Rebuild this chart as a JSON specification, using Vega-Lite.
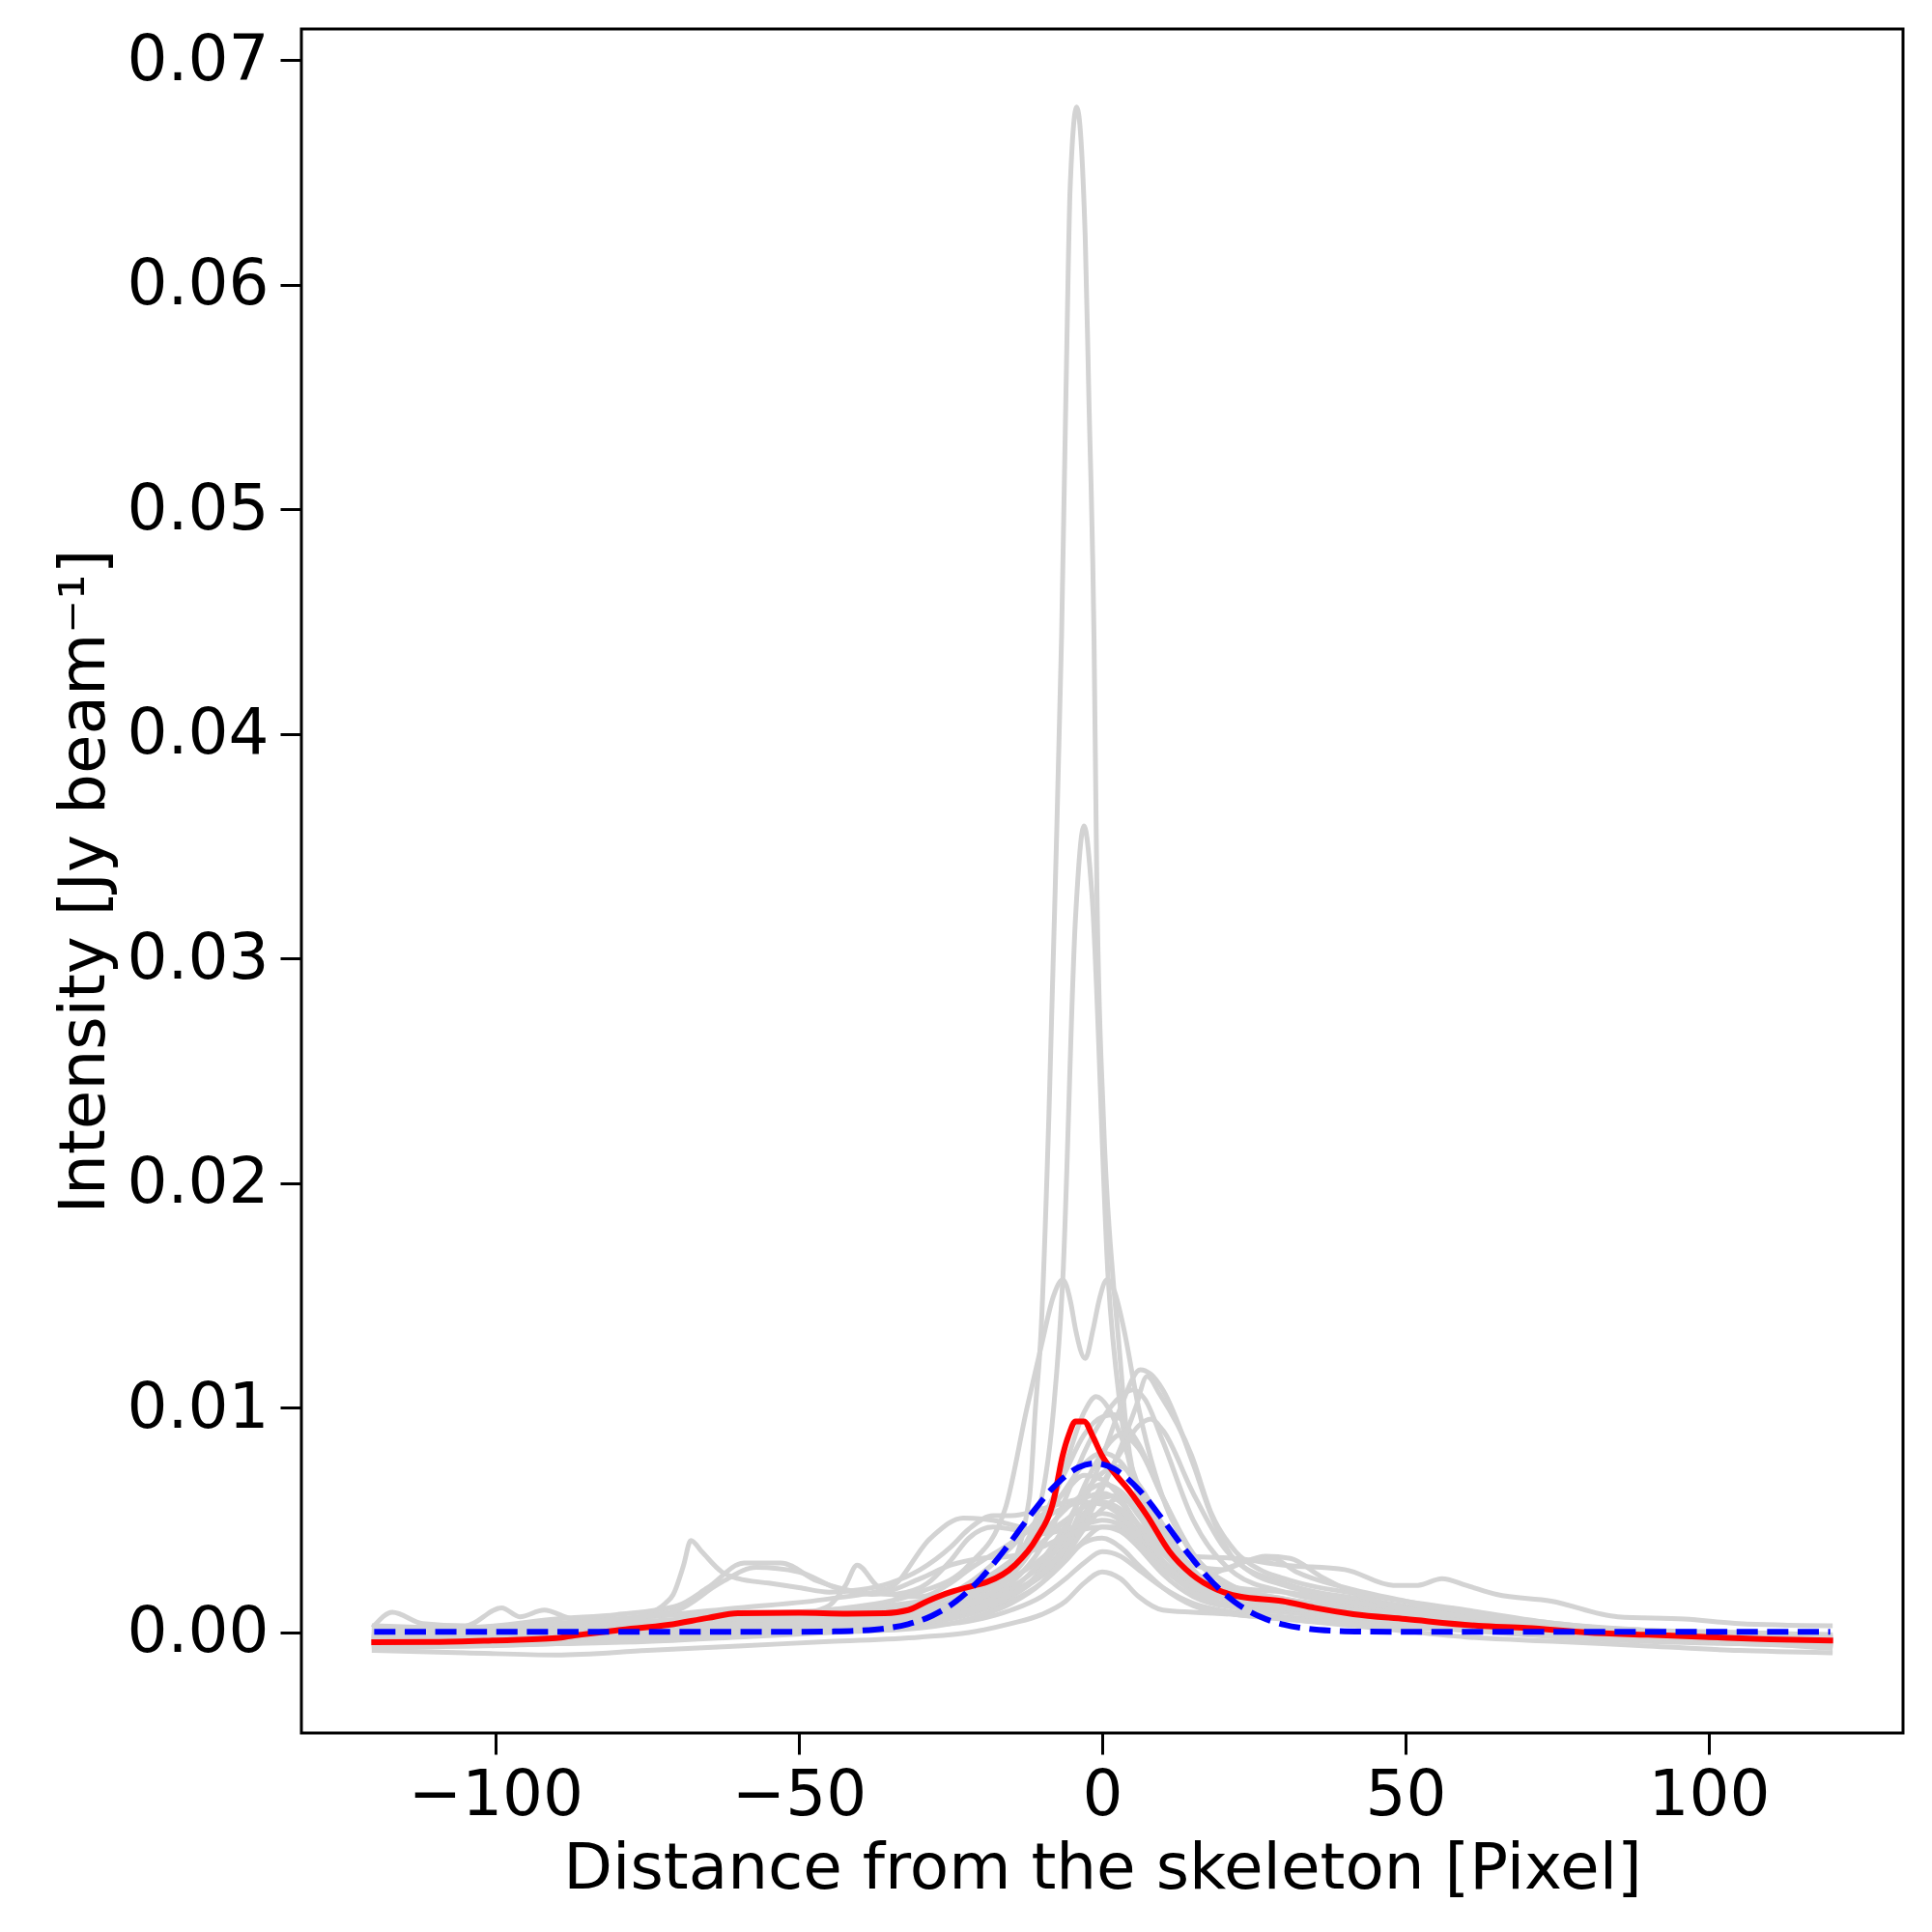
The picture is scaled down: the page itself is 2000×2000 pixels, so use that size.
{
"$schema": "https://vega.github.io/schema/vega-lite/v6.json",
"width": 1658,
"height": 1764,
"autosize": "none",
"padding": {"left": 312, "top": 30, "right": 30, "bottom": 206},
"background": "white",
"config": {
"view": {"stroke": "black", "strokeWidth": 3},
"axis": {"domain": false, "grid": false, "labelFont": "DejaVu Sans", "labelFontSize": 66, "labelColor": "black", "titleFont": "DejaVu Sans", "titleFontSize": 66, "titleFontWeight": "normal", "titleColor": "black", "tickColor": "black", "tickWidth": 3, "tickSize": 22, "labelPadding": 13, "labelOverlap": false, "labelFlush": false, "labelBound": false, "labelLimit": 0}
},
"datasets": {
"grey": [
{"id":"g01","x":-120,"y":-0.0006},{"id":"g01","x":-105,"y":-0.0005},{"id":"g01","x":-90,"y":-0.0004},{"id":"g01","x":-75,"y":0.0},{"id":"g01","x":-60,"y":0.0004},{"id":"g01","x":-45,"y":0.0006},{"id":"g01","x":-30,"y":0.0008},{"id":"g01","x":-22,"y":0.0012},{"id":"g01","x":-16,"y":0.0024},{"id":"g01","x":-12,"y":0.006},{"id":"g01","x":-11,"y":0.01},{"id":"g01","x":-10.1,"y":0.0133},{"id":"g01","x":-8.8,"y":0.0229},{"id":"g01","x":-7.7,"y":0.0336},{"id":"g01","x":-6.7,"y":0.0443},{"id":"g01","x":-5.6,"y":0.0607},{"id":"g01","x":-5.3,"y":0.0642},{"id":"g01","x":-4.2,"y":0.0679},{"id":"g01","x":-2.8,"y":0.0621},{"id":"g01","x":-2.2,"y":0.055},{"id":"g01","x":-1.35,"y":0.0443},{"id":"g01","x":-0.9,"y":0.0336},{"id":"g01","x":0.2,"y":0.0229},{"id":"g01","x":1.8,"y":0.0157},{"id":"g01","x":2.6,"y":0.0133},{"id":"g01","x":4,"y":0.009},{"id":"g01","x":6,"y":0.006},{"id":"g01","x":10,"y":0.0038},{"id":"g01","x":15,"y":0.0024},{"id":"g01","x":22,"y":0.0015},{"id":"g01","x":30,"y":0.0011},{"id":"g01","x":45,"y":0.0007},{"id":"g01","x":60,"y":0.0004},{"id":"g01","x":75,"y":0.0001},{"id":"g01","x":90,"y":-0.0002},{"id":"g01","x":105,"y":-0.0004},{"id":"g01","x":120,"y":-0.0005},
{"id":"g02","x":-120,"y":-0.0003},{"id":"g02","x":-105,"y":-0.0002},{"id":"g02","x":-90,"y":0.0},{"id":"g02","x":-75,"y":0.0003},{"id":"g02","x":-60,"y":0.0006},{"id":"g02","x":-45,"y":0.0008},{"id":"g02","x":-30,"y":0.001},{"id":"g02","x":-22,"y":0.0015},{"id":"g02","x":-15,"y":0.003},{"id":"g02","x":-10,"y":0.006},{"id":"g02","x":-8,"y":0.01},{"id":"g02","x":-6.5,"y":0.0157},{"id":"g02","x":-4.4,"y":0.0318},{"id":"g02","x":-3,"y":0.0359},{"id":"g02","x":-1.7,"y":0.0329},{"id":"g02","x":1,"y":0.0157},{"id":"g02","x":3,"y":0.01},{"id":"g02","x":6,"y":0.006},{"id":"g02","x":10,"y":0.004},{"id":"g02","x":15,"y":0.0025},{"id":"g02","x":22,"y":0.0016},{"id":"g02","x":30,"y":0.0012},{"id":"g02","x":45,"y":0.0008},{"id":"g02","x":60,"y":0.0005},{"id":"g02","x":75,"y":0.0002},{"id":"g02","x":90,"y":0.0},{"id":"g02","x":105,"y":-0.0002},{"id":"g02","x":120,"y":-0.0003},
{"id":"g03","x":-120,"y":-0.0002},{"id":"g03","x":-105,"y":0.0},{"id":"g03","x":-90,"y":0.0002},{"id":"g03","x":-75,"y":0.0004},{"id":"g03","x":-60,"y":0.0007},{"id":"g03","x":-45,"y":0.001},{"id":"g03","x":-30,"y":0.0018},{"id":"g03","x":-22,"y":0.003},{"id":"g03","x":-16,"y":0.0055},{"id":"g03","x":-12.4,"y":0.01},{"id":"g03","x":-10,"y":0.0128},{"id":"g03","x":-8,"y":0.015},{"id":"g03","x":-6.5,"y":0.0157},{"id":"g03","x":-5.2,"y":0.0147},{"id":"g03","x":-4.4,"y":0.0135},{"id":"g03","x":-2.8,"y":0.0122},{"id":"g03","x":-1.5,"y":0.0135},{"id":"g03","x":-0.5,"y":0.0148},{"id":"g03","x":0.8,"y":0.0157},{"id":"g03","x":2,"y":0.0152},{"id":"g03","x":3.5,"y":0.0136},{"id":"g03","x":6,"y":0.01},{"id":"g03","x":10,"y":0.006},{"id":"g03","x":15,"y":0.0035},{"id":"g03","x":22,"y":0.002},{"id":"g03","x":30,"y":0.0015},{"id":"g03","x":45,"y":0.001},{"id":"g03","x":60,"y":0.0006},{"id":"g03","x":75,"y":0.0003},{"id":"g03","x":90,"y":0.0001},{"id":"g03","x":105,"y":0.0},{"id":"g03","x":120,"y":-0.0001},
{"id":"g04","x":-120,"y":-0.0008},{"id":"g04","x":-105,"y":-0.0009},{"id":"g04","x":-90,"y":-0.001},{"id":"g04","x":-75,"y":-0.0008},{"id":"g04","x":-60,"y":-0.0006},{"id":"g04","x":-45,"y":-0.0004},{"id":"g04","x":-30,"y":-0.0002},{"id":"g04","x":-22,"y":0.0},{"id":"g04","x":-15,"y":0.0004},{"id":"g04","x":-10,"y":0.0008},{"id":"g04","x":-6,"y":0.0014},{"id":"g04","x":-3,"y":0.0022},{"id":"g04","x":0,"y":0.0027},{"id":"g04","x":3,"y":0.0024},{"id":"g04","x":6,"y":0.0016},{"id":"g04","x":10,"y":0.001},{"id":"g04","x":15,"y":0.0009},{"id":"g04","x":22,"y":0.0008},{"id":"g04","x":30,"y":0.0006},{"id":"g04","x":45,"y":0.0002},{"id":"g04","x":60,"y":-0.0002},{"id":"g04","x":75,"y":-0.0004},{"id":"g04","x":90,"y":-0.0006},{"id":"g04","x":105,"y":-0.0008},{"id":"g04","x":120,"y":-0.0009},
{"id":"g05","x":-120,"y":-0.0005},{"id":"g05","x":-105,"y":-0.0006},{"id":"g05","x":-90,"y":-0.0005},{"id":"g05","x":-75,"y":-0.0003},{"id":"g05","x":-60,"y":0.0},{"id":"g05","x":-45,"y":0.0002},{"id":"g05","x":-30,"y":0.0003},{"id":"g05","x":-22,"y":0.0005},{"id":"g05","x":-15,"y":0.001},{"id":"g05","x":-10,"y":0.0016},{"id":"g05","x":-6,"y":0.0024},{"id":"g05","x":-3,"y":0.0031},{"id":"g05","x":0,"y":0.0036},{"id":"g05","x":3,"y":0.0034},{"id":"g05","x":6,"y":0.0028},{"id":"g05","x":10,"y":0.002},{"id":"g05","x":15,"y":0.0013},{"id":"g05","x":22,"y":0.0009},{"id":"g05","x":30,"y":0.0007},{"id":"g05","x":45,"y":0.0004},{"id":"g05","x":60,"y":0.0001},{"id":"g05","x":75,"y":-0.0002},{"id":"g05","x":90,"y":-0.0004},{"id":"g05","x":105,"y":-0.0005},{"id":"g05","x":120,"y":-0.0006},
{"id":"g06","x":-120,"y":-0.0004},{"id":"g06","x":-105,"y":-0.0003},{"id":"g06","x":-90,"y":-0.0002},{"id":"g06","x":-75,"y":0.0001},{"id":"g06","x":-60,"y":0.0005},{"id":"g06","x":-45,"y":0.0006},{"id":"g06","x":-30,"y":0.0006},{"id":"g06","x":-22,"y":0.001},{"id":"g06","x":-15,"y":0.0017},{"id":"g06","x":-10,"y":0.0025},{"id":"g06","x":-6,"y":0.0033},{"id":"g06","x":-3,"y":0.004},{"id":"g06","x":0,"y":0.0042},{"id":"g06","x":3,"y":0.0038},{"id":"g06","x":6,"y":0.003},{"id":"g06","x":10,"y":0.002},{"id":"g06","x":15,"y":0.0012},{"id":"g06","x":22,"y":0.0008},{"id":"g06","x":30,"y":0.0006},{"id":"g06","x":45,"y":0.0003},{"id":"g06","x":60,"y":0.0001},{"id":"g06","x":75,"y":-0.0001},{"id":"g06","x":90,"y":-0.0003},{"id":"g06","x":105,"y":-0.0005},{"id":"g06","x":120,"y":-0.0006},
{"id":"g07","x":-120,"y":-0.0006},{"id":"g07","x":-105,"y":-0.0005},{"id":"g07","x":-90,"y":-0.0003},{"id":"g07","x":-75,"y":0.0},{"id":"g07","x":-60,"y":0.0003},{"id":"g07","x":-45,"y":0.0005},{"id":"g07","x":-30,"y":0.0006},{"id":"g07","x":-22,"y":0.0009},{"id":"g07","x":-15,"y":0.0014},{"id":"g07","x":-10,"y":0.0022},{"id":"g07","x":-6,"y":0.0032},{"id":"g07","x":-3,"y":0.0041},{"id":"g07","x":0,"y":0.0047},{"id":"g07","x":3,"y":0.0047},{"id":"g07","x":6,"y":0.0038},{"id":"g07","x":10,"y":0.0026},{"id":"g07","x":15,"y":0.0016},{"id":"g07","x":22,"y":0.0011},{"id":"g07","x":30,"y":0.0009},{"id":"g07","x":45,"y":0.0005},{"id":"g07","x":60,"y":0.0002},{"id":"g07","x":75,"y":0.0},{"id":"g07","x":90,"y":-0.0002},{"id":"g07","x":105,"y":-0.0004},{"id":"g07","x":120,"y":-0.0005},
{"id":"g08","x":-120,"y":-0.0002},{"id":"g08","x":-105,"y":-0.0001},{"id":"g08","x":-90,"y":0.0},{"id":"g08","x":-75,"y":0.0003},{"id":"g08","x":-60,"y":0.0007},{"id":"g08","x":-45,"y":0.0009},{"id":"g08","x":-30,"y":0.0011},{"id":"g08","x":-22,"y":0.0016},{"id":"g08","x":-15,"y":0.0024},{"id":"g08","x":-10,"y":0.0033},{"id":"g08","x":-6,"y":0.0043},{"id":"g08","x":-3,"y":0.005},{"id":"g08","x":0,"y":0.0053},{"id":"g08","x":3,"y":0.005},{"id":"g08","x":6,"y":0.0041},{"id":"g08","x":10,"y":0.0029},{"id":"g08","x":15,"y":0.0018},{"id":"g08","x":22,"y":0.0012},{"id":"g08","x":30,"y":0.001},{"id":"g08","x":45,"y":0.0006},{"id":"g08","x":60,"y":0.0003},{"id":"g08","x":75,"y":0.0001},{"id":"g08","x":90,"y":-0.0001},{"id":"g08","x":105,"y":-0.0002},{"id":"g08","x":120,"y":-0.0003},
{"id":"g09","x":-120,"y":0.0003},{"id":"g09","x":-105,"y":0.0002},{"id":"g09","x":-90,"y":0.0004},{"id":"g09","x":-75,"y":0.0007},{"id":"g09","x":-60,"y":0.0011},{"id":"g09","x":-45,"y":0.0015},{"id":"g09","x":-35,"y":0.002},{"id":"g09","x":-28.3,"y":0.0042},{"id":"g09","x":-22.9,"y":0.0051},{"id":"g09","x":-18,"y":0.005},{"id":"g09","x":-15,"y":0.0048},{"id":"g09","x":-10,"y":0.0045},{"id":"g09","x":-6,"y":0.005},{"id":"g09","x":-3,"y":0.0056},{"id":"g09","x":0,"y":0.0058},{"id":"g09","x":3,"y":0.0054},{"id":"g09","x":6,"y":0.0044},{"id":"g09","x":10,"y":0.0032},{"id":"g09","x":15,"y":0.0022},{"id":"g09","x":22,"y":0.0015},{"id":"g09","x":30,"y":0.0012},{"id":"g09","x":45,"y":0.0008},{"id":"g09","x":60,"y":0.0005},{"id":"g09","x":75,"y":0.0003},{"id":"g09","x":90,"y":0.0001},{"id":"g09","x":105,"y":0.0},{"id":"g09","x":120,"y":-0.0001},
{"id":"g10","x":-120,"y":-0.0004},{"id":"g10","x":-105,"y":-0.0004},{"id":"g10","x":-90,"y":-0.0003},{"id":"g10","x":-75,"y":0.0},{"id":"g10","x":-60,"y":0.0004},{"id":"g10","x":-45,"y":0.0006},{"id":"g10","x":-30,"y":0.0007},{"id":"g10","x":-22,"y":0.0011},{"id":"g10","x":-15,"y":0.002},{"id":"g10","x":-10,"y":0.003},{"id":"g10","x":-6,"y":0.0042},{"id":"g10","x":-3,"y":0.0053},{"id":"g10","x":0,"y":0.006},{"id":"g10","x":3,"y":0.0061},{"id":"g10","x":6,"y":0.0052},{"id":"g10","x":10,"y":0.0036},{"id":"g10","x":15,"y":0.0022},{"id":"g10","x":22,"y":0.0014},{"id":"g10","x":30,"y":0.001},{"id":"g10","x":45,"y":0.0006},{"id":"g10","x":60,"y":0.0003},{"id":"g10","x":75,"y":0.0001},{"id":"g10","x":90,"y":-0.0001},{"id":"g10","x":105,"y":-0.0003},{"id":"g10","x":120,"y":-0.0004},
{"id":"g11","x":-120,"y":0.0003},{"id":"g11","x":-117,"y":0.0009},{"id":"g11","x":-112,"y":0.0004},{"id":"g11","x":-105,"y":0.0003},{"id":"g11","x":-99,"y":0.0011},{"id":"g11","x":-96,"y":0.0007},{"id":"g11","x":-92,"y":0.001},{"id":"g11","x":-87,"y":0.0006},{"id":"g11","x":-80,"y":0.0006},{"id":"g11","x":-75,"y":0.0007},{"id":"g11","x":-60,"y":0.0009},{"id":"g11","x":-45,"y":0.0009},{"id":"g11","x":-30,"y":0.0012},{"id":"g11","x":-22,"y":0.002},{"id":"g11","x":-15,"y":0.0032},{"id":"g11","x":-10,"y":0.0044},{"id":"g11","x":-6,"y":0.0055},{"id":"g11","x":-3,"y":0.0062},{"id":"g11","x":0,"y":0.0066},{"id":"g11","x":3,"y":0.0063},{"id":"g11","x":6,"y":0.0054},{"id":"g11","x":10,"y":0.004},{"id":"g11","x":15,"y":0.0026},{"id":"g11","x":22,"y":0.0018},{"id":"g11","x":30,"y":0.0014},{"id":"g11","x":45,"y":0.0009},{"id":"g11","x":60,"y":0.0005},{"id":"g11","x":75,"y":0.0002},{"id":"g11","x":90,"y":0.0},{"id":"g11","x":105,"y":-0.0001},{"id":"g11","x":120,"y":-0.0002},
{"id":"g12","x":-120,"y":-0.0003},{"id":"g12","x":-105,"y":-0.0002},{"id":"g12","x":-90,"y":-0.0001},{"id":"g12","x":-75,"y":0.0002},{"id":"g12","x":-60,"y":0.0005},{"id":"g12","x":-45,"y":0.0008},{"id":"g12","x":-30,"y":0.0012},{"id":"g12","x":-22,"y":0.0022},{"id":"g12","x":-15,"y":0.0038},{"id":"g12","x":-10,"y":0.0052},{"id":"g12","x":-6,"y":0.0063},{"id":"g12","x":-3,"y":0.007},{"id":"g12","x":0,"y":0.0068},{"id":"g12","x":3,"y":0.006},{"id":"g12","x":6,"y":0.0047},{"id":"g12","x":10,"y":0.0032},{"id":"g12","x":15,"y":0.002},{"id":"g12","x":22,"y":0.0014},{"id":"g12","x":30,"y":0.0011},{"id":"g12","x":45,"y":0.0007},{"id":"g12","x":60,"y":0.0004},{"id":"g12","x":75,"y":0.0002},{"id":"g12","x":90,"y":0.0},{"id":"g12","x":105,"y":-0.0002},{"id":"g12","x":120,"y":-0.0003},
{"id":"g13","x":-120,"y":-0.0005},{"id":"g13","x":-105,"y":-0.0004},{"id":"g13","x":-90,"y":-0.0004},{"id":"g13","x":-75,"y":-0.0002},{"id":"g13","x":-60,"y":0.0001},{"id":"g13","x":-45,"y":0.0003},{"id":"g13","x":-30,"y":0.0005},{"id":"g13","x":-22,"y":0.001},{"id":"g13","x":-15,"y":0.0019},{"id":"g13","x":-10,"y":0.0032},{"id":"g13","x":-6,"y":0.0048},{"id":"g13","x":-3,"y":0.0062},{"id":"g13","x":0,"y":0.0071},{"id":"g13","x":3,"y":0.0074},{"id":"g13","x":6,"y":0.0066},{"id":"g13","x":10,"y":0.0048},{"id":"g13","x":15,"y":0.0028},{"id":"g13","x":22,"y":0.0017},{"id":"g13","x":30,"y":0.0013},{"id":"g13","x":45,"y":0.0008},{"id":"g13","x":60,"y":0.0004},{"id":"g13","x":75,"y":0.0001},{"id":"g13","x":90,"y":-0.0002},{"id":"g13","x":105,"y":-0.0004},{"id":"g13","x":120,"y":-0.0005},
{"id":"g14","x":-120,"y":-0.0001},{"id":"g14","x":-105,"y":0.0},{"id":"g14","x":-90,"y":0.0001},{"id":"g14","x":-75,"y":0.0003},{"id":"g14","x":-60,"y":0.0006},{"id":"g14","x":-45,"y":0.0008},{"id":"g14","x":-30,"y":0.001},{"id":"g14","x":-22,"y":0.0018},{"id":"g14","x":-15,"y":0.0032},{"id":"g14","x":-10,"y":0.0048},{"id":"g14","x":-6,"y":0.0064},{"id":"g14","x":-3,"y":0.0075},{"id":"g14","x":0,"y":0.008},{"id":"g14","x":3,"y":0.0076},{"id":"g14","x":6,"y":0.0064},{"id":"g14","x":10,"y":0.0045},{"id":"g14","x":15,"y":0.0027},{"id":"g14","x":22,"y":0.0017},{"id":"g14","x":30,"y":0.0014},{"id":"g14","x":45,"y":0.0009},{"id":"g14","x":60,"y":0.0005},{"id":"g14","x":75,"y":0.0002},{"id":"g14","x":90,"y":0.0},{"id":"g14","x":105,"y":-0.0001},{"id":"g14","x":120,"y":-0.0002},
{"id":"g15","x":-120,"y":-0.0006},{"id":"g15","x":-105,"y":-0.0005},{"id":"g15","x":-90,"y":-0.0004},{"id":"g15","x":-75,"y":-0.0003},{"id":"g15","x":-60,"y":-0.0001},{"id":"g15","x":-45,"y":0.0001},{"id":"g15","x":-30,"y":0.0004},{"id":"g15","x":-22,"y":0.0008},{"id":"g15","x":-15,"y":0.0016},{"id":"g15","x":-10,"y":0.0028},{"id":"g15","x":-6,"y":0.0045},{"id":"g15","x":-3,"y":0.0065},{"id":"g15","x":0,"y":0.008},{"id":"g15","x":3,"y":0.0088},{"id":"g15","x":6,"y":0.0082},{"id":"g15","x":10,"y":0.006},{"id":"g15","x":15,"y":0.0035},{"id":"g15","x":22,"y":0.002},{"id":"g15","x":30,"y":0.0014},{"id":"g15","x":45,"y":0.0008},{"id":"g15","x":60,"y":0.0004},{"id":"g15","x":75,"y":0.0001},{"id":"g15","x":90,"y":-0.0002},{"id":"g15","x":105,"y":-0.0004},{"id":"g15","x":120,"y":-0.0006},
{"id":"g16","x":-120,"y":-0.0003},{"id":"g16","x":-105,"y":-0.0002},{"id":"g16","x":-90,"y":-0.0001},{"id":"g16","x":-75,"y":0.0002},{"id":"g16","x":-60,"y":0.0005},{"id":"g16","x":-45,"y":0.0007},{"id":"g16","x":-30,"y":0.0009},{"id":"g16","x":-22,"y":0.0016},{"id":"g16","x":-15,"y":0.003},{"id":"g16","x":-10,"y":0.005},{"id":"g16","x":-6,"y":0.0072},{"id":"g16","x":-3,"y":0.0088},{"id":"g16","x":0,"y":0.0096},{"id":"g16","x":2,"y":0.0097},{"id":"g16","x":4,"y":0.0092},{"id":"g16","x":6,"y":0.0084},{"id":"g16","x":10,"y":0.006},{"id":"g16","x":15,"y":0.0034},{"id":"g16","x":22,"y":0.002},{"id":"g16","x":30,"y":0.0015},{"id":"g16","x":45,"y":0.0009},{"id":"g16","x":60,"y":0.0005},{"id":"g16","x":75,"y":0.0002},{"id":"g16","x":90,"y":0.0},{"id":"g16","x":105,"y":-0.0002},{"id":"g16","x":120,"y":-0.0003},
{"id":"g17","x":-120,"y":-0.0004},{"id":"g17","x":-105,"y":-0.0003},{"id":"g17","x":-90,"y":-0.0002},{"id":"g17","x":-75,"y":0.0},{"id":"g17","x":-60,"y":0.0003},{"id":"g17","x":-45,"y":0.0005},{"id":"g17","x":-30,"y":0.0007},{"id":"g17","x":-22,"y":0.0012},{"id":"g17","x":-15,"y":0.0022},{"id":"g17","x":-10,"y":0.0038},{"id":"g17","x":-6,"y":0.006},{"id":"g17","x":-3,"y":0.008},{"id":"g17","x":0,"y":0.0095},{"id":"g17","x":3,"y":0.0105},{"id":"g17","x":5,"y":0.0108},{"id":"g17","x":7,"y":0.0104},{"id":"g17","x":10,"y":0.0085},{"id":"g17","x":15,"y":0.005},{"id":"g17","x":22,"y":0.0026},{"id":"g17","x":30,"y":0.0018},{"id":"g17","x":45,"y":0.0011},{"id":"g17","x":60,"y":0.0006},{"id":"g17","x":75,"y":0.0002},{"id":"g17","x":90,"y":0.0},{"id":"g17","x":105,"y":-0.0002},{"id":"g17","x":120,"y":-0.0004},
{"id":"g18","x":-120,"y":-0.0005},{"id":"g18","x":-105,"y":-0.0004},{"id":"g18","x":-90,"y":-0.0003},{"id":"g18","x":-75,"y":-0.0002},{"id":"g18","x":-60,"y":0.0},{"id":"g18","x":-45,"y":0.0002},{"id":"g18","x":-30,"y":0.0005},{"id":"g18","x":-22,"y":0.0009},{"id":"g18","x":-15,"y":0.0016},{"id":"g18","x":-10,"y":0.0026},{"id":"g18","x":-6,"y":0.004},{"id":"g18","x":-3,"y":0.0058},{"id":"g18","x":0,"y":0.0078},{"id":"g18","x":3,"y":0.01},{"id":"g18","x":6.3,"y":0.0117},{"id":"g18","x":8,"y":0.0115},{"id":"g18","x":10,"y":0.0108},{"id":"g18","x":15,"y":0.0075},{"id":"g18","x":18,"y":0.0052},{"id":"g18","x":22,"y":0.0032},{"id":"g18","x":30,"y":0.0022},{"id":"g18","x":45,"y":0.0014},{"id":"g18","x":60,"y":0.0008},{"id":"g18","x":75,"y":0.0003},{"id":"g18","x":90,"y":0.0},{"id":"g18","x":105,"y":-0.0003},{"id":"g18","x":120,"y":-0.0005},
{"id":"g19","x":-120,"y":-0.0002},{"id":"g19","x":-105,"y":-0.0001},{"id":"g19","x":-90,"y":0.0},{"id":"g19","x":-75,"y":0.0002},{"id":"g19","x":-60,"y":0.0004},{"id":"g19","x":-45,"y":0.0006},{"id":"g19","x":-30,"y":0.0008},{"id":"g19","x":-22,"y":0.0012},{"id":"g19","x":-15,"y":0.0018},{"id":"g19","x":-10,"y":0.0026},{"id":"g19","x":-6,"y":0.0036},{"id":"g19","x":-3,"y":0.0048},{"id":"g19","x":0,"y":0.0064},{"id":"g19","x":3,"y":0.0082},{"id":"g19","x":5.5,"y":0.01},{"id":"g19","x":7.4,"y":0.0114},{"id":"g19","x":9.5,"y":0.0106},{"id":"g19","x":14.7,"y":0.0079},{"id":"g19","x":18,"y":0.0053},{"id":"g19","x":22,"y":0.0036},{"id":"g19","x":26,"y":0.0028},{"id":"g19","x":30,"y":0.0024},{"id":"g19","x":45,"y":0.0016},{"id":"g19","x":60,"y":0.001},{"id":"g19","x":75,"y":0.0004},{"id":"g19","x":90,"y":0.0001},{"id":"g19","x":105,"y":-0.0001},{"id":"g19","x":120,"y":-0.0002},
{"id":"g20","x":-120,"y":-0.0004},{"id":"g20","x":-105,"y":-0.0003},{"id":"g20","x":-90,"y":-0.0003},{"id":"g20","x":-75,"y":-0.0001},{"id":"g20","x":-60,"y":0.0002},{"id":"g20","x":-45,"y":0.0004},{"id":"g20","x":-30,"y":0.0006},{"id":"g20","x":-22,"y":0.001},{"id":"g20","x":-15,"y":0.0017},{"id":"g20","x":-10,"y":0.0026},{"id":"g20","x":-6,"y":0.0038},{"id":"g20","x":-3,"y":0.0052},{"id":"g20","x":0,"y":0.0066},{"id":"g20","x":3,"y":0.008},{"id":"g20","x":6,"y":0.0092},{"id":"g20","x":8,"y":0.0095},{"id":"g20","x":10,"y":0.009},{"id":"g20","x":15,"y":0.0062},{"id":"g20","x":20,"y":0.0038},{"id":"g20","x":25,"y":0.0026},{"id":"g20","x":30,"y":0.0021},{"id":"g20","x":45,"y":0.0013},{"id":"g20","x":60,"y":0.0007},{"id":"g20","x":75,"y":0.0003},{"id":"g20","x":90,"y":0.0},{"id":"g20","x":105,"y":-0.0002},{"id":"g20","x":120,"y":-0.0004},
{"id":"g21","x":-120,"y":-0.0002},{"id":"g21","x":-105,"y":0.0},{"id":"g21","x":-90,"y":0.0002},{"id":"g21","x":-80,"y":0.0005},{"id":"g21","x":-75,"y":0.0008},{"id":"g21","x":-72,"y":0.0013},{"id":"g21","x":-70.7,"y":0.0017},{"id":"g21","x":-69,"y":0.003},{"id":"g21","x":-67.8,"y":0.0041},{"id":"g21","x":-66,"y":0.0036},{"id":"g21","x":-62.7,"y":0.0027},{"id":"g21","x":-60,"y":0.0024},{"id":"g21","x":-55,"y":0.0022},{"id":"g21","x":-50,"y":0.002},{"id":"g21","x":-45,"y":0.0018},{"id":"g21","x":-40,"y":0.0019},{"id":"g21","x":-35,"y":0.0022},{"id":"g21","x":-30,"y":0.0028},{"id":"g21","x":-25,"y":0.0038},{"id":"g21","x":-22,"y":0.0046},{"id":"g21","x":-18,"y":0.0052},{"id":"g21","x":-15,"y":0.0052},{"id":"g21","x":-10,"y":0.0055},{"id":"g21","x":-6,"y":0.0058},{"id":"g21","x":-3,"y":0.006},{"id":"g21","x":0,"y":0.0062},{"id":"g21","x":3,"y":0.0058},{"id":"g21","x":6,"y":0.0048},{"id":"g21","x":10,"y":0.0035},{"id":"g21","x":15,"y":0.0025},{"id":"g21","x":22,"y":0.002},{"id":"g21","x":30,"y":0.0018},{"id":"g21","x":45,"y":0.0012},{"id":"g21","x":60,"y":0.0007},{"id":"g21","x":75,"y":0.0003},{"id":"g21","x":90,"y":0.0},{"id":"g21","x":105,"y":-0.0002},{"id":"g21","x":120,"y":-0.0003},
{"id":"g22","x":-120,"y":-0.0005},{"id":"g22","x":-105,"y":-0.0004},{"id":"g22","x":-90,"y":-0.0002},{"id":"g22","x":-75,"y":0.0},{"id":"g22","x":-60,"y":0.0004},{"id":"g22","x":-50,"y":0.0008},{"id":"g22","x":-45,"y":0.0012},{"id":"g22","x":-42.3,"y":0.0021},{"id":"g22","x":-40.4,"y":0.003},{"id":"g22","x":-37.2,"y":0.0021},{"id":"g22","x":-33,"y":0.0016},{"id":"g22","x":-30,"y":0.0016},{"id":"g22","x":-25,"y":0.0022},{"id":"g22","x":-22,"y":0.0028},{"id":"g22","x":-15,"y":0.004},{"id":"g22","x":-10,"y":0.005},{"id":"g22","x":-6,"y":0.0056},{"id":"g22","x":-3,"y":0.0058},{"id":"g22","x":0,"y":0.0057},{"id":"g22","x":3,"y":0.0052},{"id":"g22","x":6,"y":0.0042},{"id":"g22","x":10,"y":0.003},{"id":"g22","x":15,"y":0.002},{"id":"g22","x":22,"y":0.0014},{"id":"g22","x":30,"y":0.0012},{"id":"g22","x":45,"y":0.0008},{"id":"g22","x":60,"y":0.0004},{"id":"g22","x":75,"y":0.0001},{"id":"g22","x":90,"y":-0.0001},{"id":"g22","x":105,"y":-0.0003},{"id":"g22","x":120,"y":-0.0005},
{"id":"g23","x":-120,"y":-0.0001},{"id":"g23","x":-110,"y":0.0001},{"id":"g23","x":-100,"y":0.0003},{"id":"g23","x":-90,"y":0.0006},{"id":"g23","x":-80,"y":0.0008},{"id":"g23","x":-70,"y":0.0012},{"id":"g23","x":-65,"y":0.002},{"id":"g23","x":-59,"y":0.0031},{"id":"g23","x":-53,"y":0.0031},{"id":"g23","x":-47,"y":0.0023},{"id":"g23","x":-40,"y":0.0018},{"id":"g23","x":-35,"y":0.0017},{"id":"g23","x":-30,"y":0.002},{"id":"g23","x":-25,"y":0.0032},{"id":"g23","x":-22,"y":0.0042},{"id":"g23","x":-18,"y":0.0047},{"id":"g23","x":-15,"y":0.0046},{"id":"g23","x":-10,"y":0.0044},{"id":"g23","x":-6,"y":0.0046},{"id":"g23","x":-3,"y":0.0048},{"id":"g23","x":0,"y":0.005},{"id":"g23","x":3,"y":0.0048},{"id":"g23","x":6,"y":0.004},{"id":"g23","x":10,"y":0.003},{"id":"g23","x":15,"y":0.0022},{"id":"g23","x":22,"y":0.0016},{"id":"g23","x":30,"y":0.0014},{"id":"g23","x":45,"y":0.001},{"id":"g23","x":60,"y":0.0006},{"id":"g23","x":75,"y":0.0002},{"id":"g23","x":90,"y":0.0},{"id":"g23","x":105,"y":-0.0001},{"id":"g23","x":120,"y":-0.0002},
{"id":"g24","x":-120,"y":0.0},{"id":"g24","x":-105,"y":0.0002},{"id":"g24","x":-90,"y":0.0004},{"id":"g24","x":-75,"y":0.0005},{"id":"g24","x":-60,"y":0.0008},{"id":"g24","x":-45,"y":0.001},{"id":"g24","x":-30,"y":0.0014},{"id":"g24","x":-22,"y":0.002},{"id":"g24","x":-15,"y":0.003},{"id":"g24","x":-10,"y":0.004},{"id":"g24","x":-6,"y":0.005},{"id":"g24","x":-3,"y":0.0056},{"id":"g24","x":0,"y":0.0058},{"id":"g24","x":3,"y":0.0055},{"id":"g24","x":6,"y":0.0048},{"id":"g24","x":10,"y":0.004},{"id":"g24","x":15,"y":0.0034},{"id":"g24","x":22,"y":0.0033},{"id":"g24","x":30,"y":0.003},{"id":"g24","x":40,"y":0.0028},{"id":"g24","x":48,"y":0.0021},{"id":"g24","x":52,"y":0.0021},{"id":"g24","x":56,"y":0.0024},{"id":"g24","x":60,"y":0.0021},{"id":"g24","x":65,"y":0.0017},{"id":"g24","x":74,"y":0.0014},{"id":"g24","x":85,"y":0.0007},{"id":"g24","x":96,"y":0.0006},{"id":"g24","x":105,"y":0.0004},{"id":"g24","x":120,"y":0.0003},
{"id":"g25","x":-120,"y":-0.0003},{"id":"g25","x":-105,"y":-0.0003},{"id":"g25","x":-90,"y":-0.0002},{"id":"g25","x":-75,"y":0.0},{"id":"g25","x":-60,"y":0.0003},{"id":"g25","x":-45,"y":0.0005},{"id":"g25","x":-30,"y":0.0007},{"id":"g25","x":-22,"y":0.0013},{"id":"g25","x":-15,"y":0.0025},{"id":"g25","x":-10,"y":0.0045},{"id":"g25","x":-6,"y":0.0075},{"id":"g25","x":-3,"y":0.0098},{"id":"g25","x":-1,"y":0.0105},{"id":"g25","x":1,"y":0.01},{"id":"g25","x":3,"y":0.0088},{"id":"g25","x":6,"y":0.0065},{"id":"g25","x":10,"y":0.004},{"id":"g25","x":15,"y":0.0024},{"id":"g25","x":22,"y":0.003},{"id":"g25","x":27,"y":0.0034},{"id":"g25","x":31,"y":0.0033},{"id":"g25","x":36,"y":0.0025},{"id":"g25","x":45,"y":0.0014},{"id":"g25","x":60,"y":0.0007},{"id":"g25","x":75,"y":0.0003},{"id":"g25","x":90,"y":0.0},{"id":"g25","x":105,"y":-0.0002},{"id":"g25","x":120,"y":-0.0004},
{"id":"g26","x":-120,"y":-0.0007},{"id":"g26","x":-105,"y":-0.0006},{"id":"g26","x":-90,"y":-0.0005},{"id":"g26","x":-75,"y":-0.0004},{"id":"g26","x":-60,"y":-0.0002},{"id":"g26","x":-45,"y":0.0},{"id":"g26","x":-30,"y":0.0002},{"id":"g26","x":-22,"y":0.0006},{"id":"g26","x":-15,"y":0.0013},{"id":"g26","x":-10,"y":0.0022},{"id":"g26","x":-6,"y":0.0034},{"id":"g26","x":-3,"y":0.0046},{"id":"g26","x":0,"y":0.0055},{"id":"g26","x":3,"y":0.006},{"id":"g26","x":6,"y":0.0055},{"id":"g26","x":10,"y":0.0042},{"id":"g26","x":15,"y":0.003},{"id":"g26","x":20,"y":0.0028},{"id":"g26","x":24,"y":0.0032},{"id":"g26","x":28,"y":0.0033},{"id":"g26","x":32,"y":0.0027},{"id":"g26","x":40,"y":0.002},{"id":"g26","x":50,"y":0.0014},{"id":"g26","x":60,"y":0.0009},{"id":"g26","x":75,"y":0.0004},{"id":"g26","x":90,"y":0.0},{"id":"g26","x":105,"y":-0.0004},{"id":"g26","x":120,"y":-0.0007},
{"id":"g27","x":-120,"y":0.0001},{"id":"g27","x":-105,"y":0.0002},{"id":"g27","x":-90,"y":0.0004},{"id":"g27","x":-80,"y":0.0006},{"id":"g27","x":-70,"y":0.001},{"id":"g27","x":-63,"y":0.0022},{"id":"g27","x":-57,"y":0.0029},{"id":"g27","x":-50,"y":0.0027},{"id":"g27","x":-44,"y":0.002},{"id":"g27","x":-38,"y":0.0017},{"id":"g27","x":-30,"y":0.0024},{"id":"g27","x":-25,"y":0.003},{"id":"g27","x":-20,"y":0.0033},{"id":"g27","x":-15,"y":0.0034},{"id":"g27","x":-10,"y":0.0038},{"id":"g27","x":-6,"y":0.0043},{"id":"g27","x":-3,"y":0.0046},{"id":"g27","x":0,"y":0.0047},{"id":"g27","x":3,"y":0.0045},{"id":"g27","x":6,"y":0.0038},{"id":"g27","x":10,"y":0.0028},{"id":"g27","x":15,"y":0.002},{"id":"g27","x":22,"y":0.0015},{"id":"g27","x":30,"y":0.0013},{"id":"g27","x":45,"y":0.0009},{"id":"g27","x":60,"y":0.0005},{"id":"g27","x":75,"y":0.0002},{"id":"g27","x":90,"y":-0.0001},{"id":"g27","x":105,"y":-0.0003},{"id":"g27","x":120,"y":-0.0004}
],
"mean": [
{"x":-120,"y":-0.00043},{"x":-110,"y":-0.00042},{"x":-100,"y":-0.00035},{"x":-90,"y":-0.00025},{"x":-87,"y":-0.00013},{"x":-80,"y":0.0001},{"x":-71.5,"y":0.00034},{"x":-65,"y":0.00065},{"x":-60,"y":0.00086},{"x":-50,"y":0.00088},{"x":-42,"y":0.00084},{"x":-35.8,"y":0.00086},{"x":-32,"y":0.001},{"x":-28.8,"y":0.0014},{"x":-25,"y":0.0018},{"x":-21,"y":0.0021},{"x":-19,"y":0.00225},{"x":-14.4,"y":0.003},{"x":-10.8,"y":0.0042},{"x":-8,"y":0.0059},{"x":-6.5,"y":0.0079},{"x":-5.5,"y":0.0088},{"x":-4.4,"y":0.0094},{"x":-3,"y":0.0094},{"x":-1.5,"y":0.0087},{"x":-0.1,"y":0.0079},{"x":2,"y":0.0071},{"x":4.2,"y":0.0064},{"x":7.4,"y":0.0052},{"x":11.1,"y":0.0036},{"x":14.7,"y":0.0026},{"x":19,"y":0.0019},{"x":22.7,"y":0.0016},{"x":29.7,"y":0.0014},{"x":35,"y":0.0011},{"x":41.4,"y":0.00082},{"x":50,"y":0.0006},{"x":62,"y":0.0003},{"x":70,"y":0.0002},{"x":80,"y":0.0},{"x":90,"y":-0.0001},{"x":100,"y":-0.0002},{"x":110,"y":-0.0003},{"x":120,"y":-0.00035}
],
"fit": [
{"x":-120,"y":0.00003},{"x":-80,"y":0.00003},{"x":-50,"y":0.00003},{"x":-45,"y":0.000045},{"x":-40,"y":0.000086},{"x":-36,"y":0.000176},{"x":-32,"y":0.000373},{"x":-28,"y":0.000755},{"x":-24,"y":0.00141},{"x":-20,"y":0.00241},{"x":-16,"y":0.00371},{"x":-12,"y":0.00516},{"x":-8,"y":0.00648},{"x":-4,"y":0.00734},{"x":-1.2,"y":0.00753},{"x":2,"y":0.00728},{"x":6,"y":0.00637},{"x":10,"y":0.00502},{"x":14,"y":0.00357},{"x":18,"y":0.00229},{"x":22,"y":0.00133},{"x":26,"y":0.000706},{"x":30,"y":0.000346},{"x":34,"y":0.000164},{"x":38,"y":0.00008},{"x":44,"y":0.00004},{"x":50,"y":0.00003},{"x":80,"y":0.00003},{"x":120,"y":0.00003}
]
},
"layer": [
{
"data": {"name": "grey"},
"mark": {"type": "line", "color": "#d3d3d3", "strokeWidth": 5, "interpolate": "monotone", "strokeCap": "square", "strokeJoin": "round"},
"encoding": {
"x": {"field": "x", "type": "quantitative", "scale": {"domain": [-132, 132], "nice": false, "zero": false}, "axis": {"values": [-100, -50, 0, 50, 100], "title": "Distance from the skeleton [Pixel]", "titlePadding": 11, "labelPadding": 10}},
"y": {"field": "y", "type": "quantitative", "scale": {"domain": [-0.004472, 0.071376], "nice": false, "zero": false}, "axis": {"values": [0, 0.01, 0.02, 0.03, 0.04, 0.05, 0.06, 0.07], "format": ".2f", "title": "Intensity [Jy beam⁻¹]", "titlePadding": 10, "labelPadding": 12}},
"detail": {"field": "id", "type": "nominal"}
}
},
{
"data": {"name": "mean"},
"mark": {"type": "line", "color": "#ff0000", "strokeWidth": 6, "interpolate": "monotone", "strokeCap": "square", "strokeJoin": "round"},
"encoding": {
"x": {"field": "x", "type": "quantitative"},
"y": {"field": "y", "type": "quantitative"}
}
},
{
"data": {"name": "fit"},
"mark": {"type": "line", "color": "#0000ff", "strokeWidth": 6, "interpolate": "monotone", "strokeDash": [22, 9.6], "strokeCap": "butt", "strokeJoin": "round"},
"encoding": {
"x": {"field": "x", "type": "quantitative"},
"y": {"field": "y", "type": "quantitative"}
}
}
]
}
